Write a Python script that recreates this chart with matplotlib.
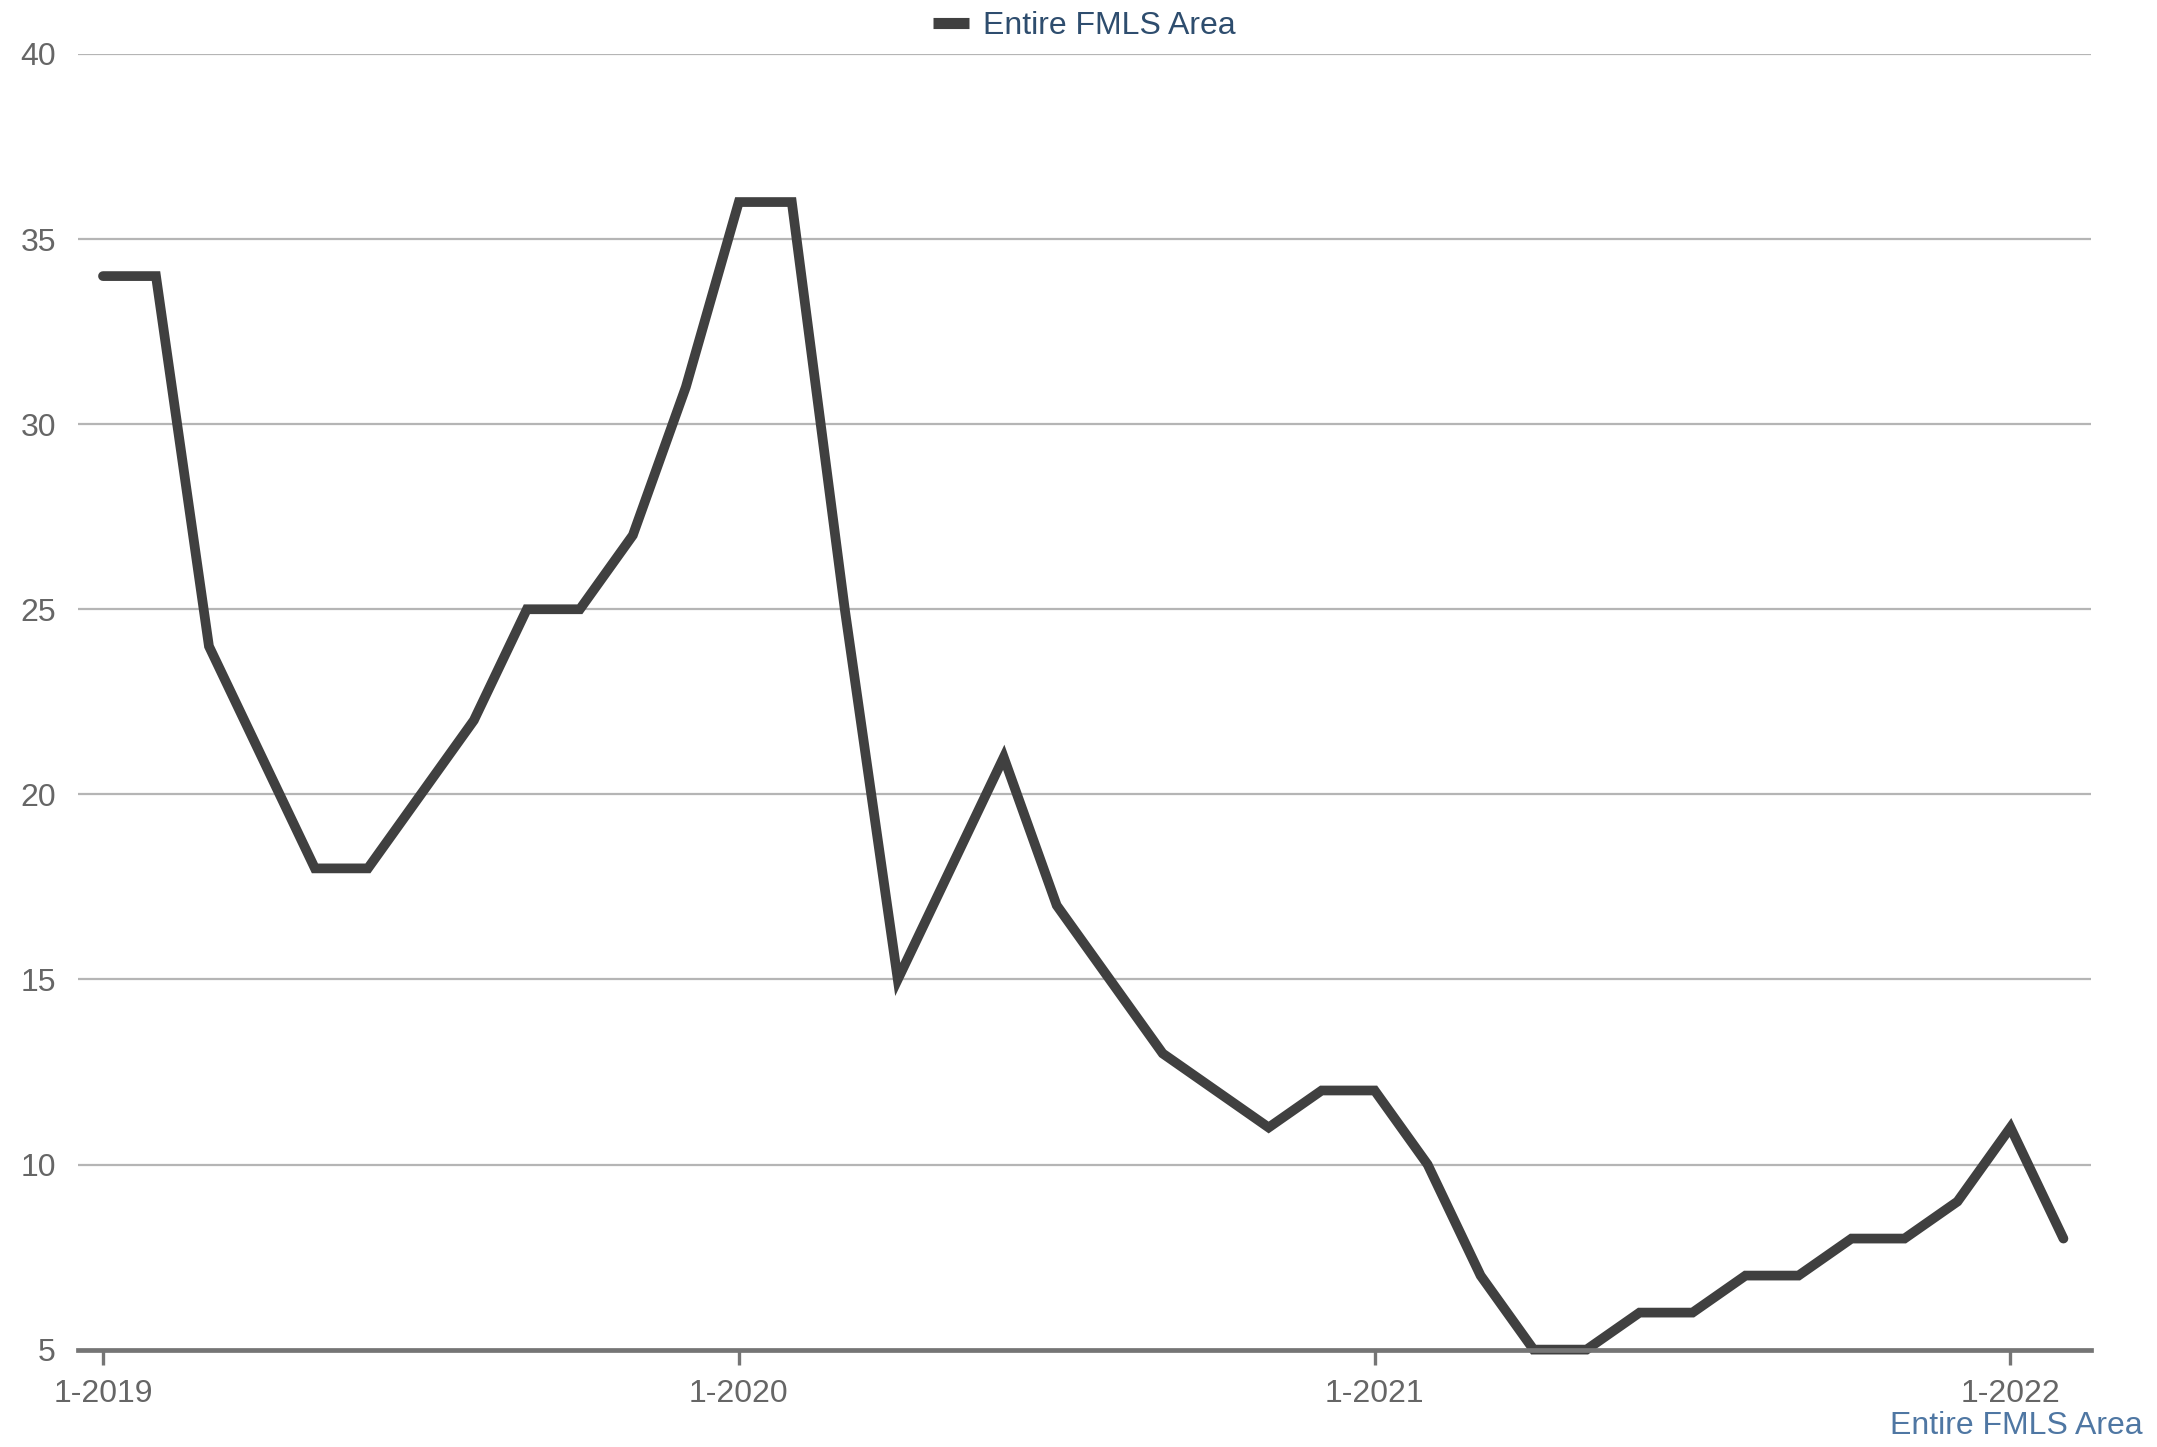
import matplotlib
matplotlib.use('Agg')
import matplotlib.pyplot as plt

# Monthly values, 1-2019 through 2-2022
months = [
    '1-2019', '2-2019', '3-2019', '4-2019', '5-2019', '6-2019',
    '7-2019', '8-2019', '9-2019', '10-2019', '11-2019', '12-2019',
    '1-2020', '2-2020', '3-2020', '4-2020', '5-2020', '6-2020',
    '7-2020', '8-2020', '9-2020', '10-2020', '11-2020', '12-2020',
    '1-2021', '2-2021', '3-2021', '4-2021', '5-2021', '6-2021',
    '7-2021', '8-2021', '9-2021', '10-2021', '11-2021', '12-2021',
    '1-2022', '2-2022',
]
values = [
    34, 34, 24, 21, 18, 18, 20, 22, 25, 25, 27, 31,
    36, 36, 25, 15, 18, 21, 17, 15, 13, 12, 11, 12,
    12, 10, 7, 5, 5, 6, 6, 7, 7, 8, 8, 9,
    11, 8,
]
series_name = 'Entire FMLS Area'
y_ticks = [5, 10, 15, 20, 25, 30, 35, 40]

plt.rcParams['font.family'] = ['Liberation Sans', 'DejaVu Sans']

fig = plt.figure(figsize=(21.57, 14.47), dpi=100)
ax = fig.add_axes([0.0362, 0.0673, 0.9694 - 0.0362, 0.9627 - 0.0673])

x = list(range(len(values)))
ax.plot(x, values, color='#404040', linewidth=7, solid_joinstyle='miter',
        solid_capstyle='round', label=series_name, zorder=3, clip_on=False)

ax.set_xlim(-0.47, len(values) - 1 + 0.52)
ax.set_ylim(5, 40)
ax.set_yticks(y_ticks)
ax.yaxis.grid(True, color='#b5b5b5', linewidth=1.6)
ax.set_axisbelow(True)

tick_pos = [i for i, m in enumerate(months) if m.startswith('1-')]
ax.set_xticks(tick_pos)
ax.set_xticklabels([months[i] for i in tick_pos])

for side in ['top', 'right', 'left']:
    ax.spines[side].set_visible(False)
ax.spines['bottom'].set_color('#757575')
ax.spines['bottom'].set_linewidth(3.4)
ax.spines['bottom'].set_zorder(4)

ax.tick_params(axis='x', colors='#757575', length=11, width=2.4,
               labelsize=23, labelcolor='#666666', pad=10)
ax.tick_params(axis='y', length=0, labelsize=23, labelcolor='#666666', pad=16)

leg = ax.legend(loc='lower center', bbox_to_anchor=(0.5, 1.0), frameon=False,
                fontsize=23, handlelength=1.1, handletextpad=0.45,
                borderaxespad=0.0)
for t in leg.get_texts():
    t.set_color('#2e4d6e')
for h in leg.get_lines():
    h.set_linewidth(8)
    h.set_solid_capstyle('butt')

fig.text(0.9935, 0.004, series_name, ha='right', va='bottom',
         fontsize=23, color='#4f77a3')

plt.savefig('out.png', dpi=100)
